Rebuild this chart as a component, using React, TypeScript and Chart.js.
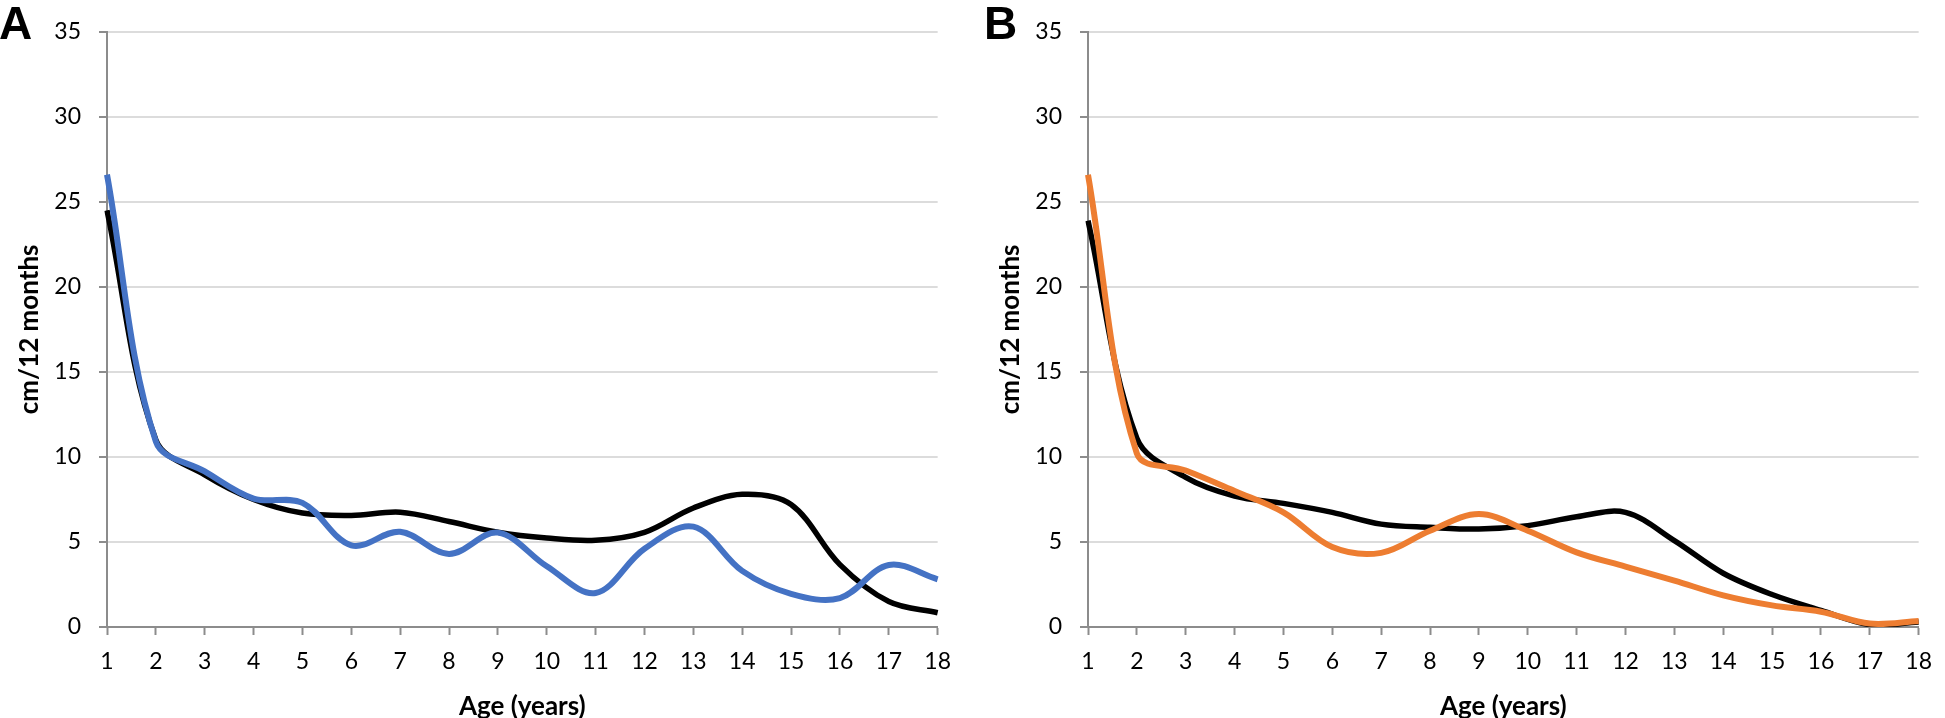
import React, { useEffect, useRef } from 'react';
import { Chart, registerables } from 'chart.js';

Chart.register(...registerables);

// Ages (years) on the x axis
const ages = ['1', '2', '3', '4', '5', '6', '7', '8', '9', '10', '11', '12', '13', '14', '15', '16', '17', '18'];

// y axis range / step (cm/12 months)
const yMin = 0;
const yMax = 35;
const yStep = 5;

// Panel A
const refA = [24.5, 11.0, 8.95, 7.5, 6.7, 6.56, 6.75, 6.2, 5.57, 5.23, 5.1, 5.57, 7.0, 7.8, 7.2, 3.67, 1.5, 0.84];
const blueA = [26.6, 10.9, 9.15, 7.55, 7.3, 4.8, 5.6, 4.3, 5.55, 3.57, 2.0, 4.6, 5.9, 3.3, 1.95, 1.7, 3.65, 2.8];

// Panel B
const refB = [23.9, 11.1, 8.8, 7.7, 7.27, 6.74, 6.05, 5.86, 5.76, 5.96, 6.48, 6.74, 5.08, 3.16, 1.91, 0.98, 0.14, 0.3];
const orangeB = [26.6, 10.2, 9.2, 8.0, 6.74, 4.7, 4.36, 5.66, 6.64, 5.66, 4.39, 3.55, 2.73, 1.86, 1.27, 0.9, 0.2, 0.35];

const FONT = 'Lato, "Open Sans", sans-serif';
const AXIS_GREY = '#8c8c8c';
const GRID_GREY = '#dcdcdc';

const letterPlugin = {
  id: 'panelLetter',
  afterDraw(chart: any, _args: any, opts: any) {
    const ctx = chart.ctx;
    ctx.save();
    ctx.font = 'bold 46px "Liberation Sans", Arial, sans-serif';
    ctx.fillStyle = '#000';
    ctx.textBaseline = 'alphabetic';
    ctx.textAlign = 'left';
    ctx.fillText(opts.text, opts.x, opts.y);
    ctx.restore();
  },
};

function Panel(props: { letter: string; letterX: number; left: number; colored: number[]; color: string; reference: number[] }) {
  const ref = useRef<HTMLCanvasElement | null>(null);
  useEffect(() => {
    if (!ref.current) return;
    const chart = new Chart(ref.current, {
      type: 'line',
      data: {
        labels: ages,
        datasets: [
          {
            data: props.colored,
            borderColor: props.color,
            borderWidth: 6,
            pointRadius: 0,
            tension: 0.35,
            fill: false,
            borderJoinStyle: 'round',
          },
          {
            data: props.reference,
            borderColor: '#000000',
            borderWidth: 5.5,
            pointRadius: 0,
            tension: 0.35,
            fill: false,
            borderJoinStyle: 'round',
          },
        ],
      },
      options: {
        animation: false,
        responsive: false,
        devicePixelRatio: 1,
        layout: { padding: { left: 0, top: 30, right: 12, bottom: 0 } },
        plugins: {
          legend: { display: false },
          tooltip: { enabled: false },
          panelLetter: { text: props.letter, x: props.letterX, y: 39 },
        } as any,
        scales: {
          x: {
            type: 'category',
            offset: false,
            grid: {
              drawOnChartArea: false,
              drawTicks: true,
              tickLength: 8,
              tickColor: AXIS_GREY,
              tickWidth: 2,
            },
            border: { color: AXIS_GREY, width: 2 },
            ticks: {
              color: '#000',
              font: { family: FONT, size: 23 },
              padding: 13,
              maxRotation: 0,
              autoSkip: false,
            },
            title: {
              display: true,
              text: 'Age (years)',
              color: '#000',
              font: { family: FONT, size: 26, weight: 'bold' },
              padding: { top: 0, bottom: -4 },
            },
            afterFit(scale: any) {
              scale.height = 91;
            },
          },
          y: {
            min: yMin,
            max: yMax,
            ticks: {
              stepSize: yStep,
              color: '#000',
              font: { family: FONT, size: 23 },
              padding: 18,
            },
            grid: {
              color: GRID_GREY,
              lineWidth: 2,
              tickLength: 8,
              tickColor: AXIS_GREY,
              tickWidth: 2,
            },
            border: { color: AXIS_GREY, width: 2 },
            title: {
              display: true,
              text: 'cm/12 months',
              color: '#000',
              font: { family: FONT, size: 26, weight: 'bold' },
              padding: { top: 14, bottom: 0 },
            },
            afterFit(scale: any) {
              scale.width = 107;
            },
          },
        },
      } as any,
      plugins: [letterPlugin],
    });
    return () => chart.destroy();
  }, []);
  return (
    <canvas
      ref={ref}
      width={964}
      height={718}
      style={{ position: 'absolute', left: props.left, top: 0, width: 964, height: 718, display: 'block' }}
    />
  );
}

export default function App() {
  return (
    <div style={{ position: 'absolute', left: 0, top: 0, width: 1945, height: 718, background: '#fff', overflow: 'hidden' }}>
      <Panel letter="A" letterX={-1} left={0} colored={blueA} color="#4472C4" reference={refA} />
      <Panel letter="B" letterX={3} left={981} colored={orangeB} color="#ED7D31" reference={refB} />
    </div>
  );
}
